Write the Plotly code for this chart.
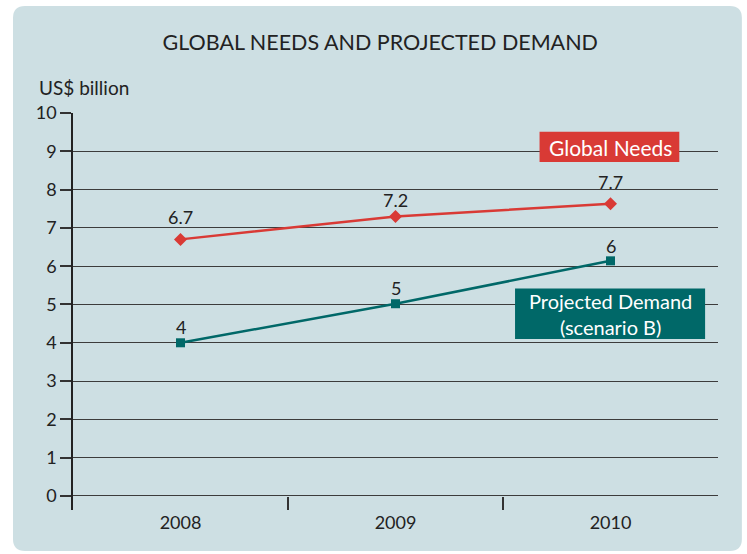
import plotly.graph_objects as go

years = ["2008", "2009", "2010"]
global_needs = [6.7, 7.3, 7.63]
global_needs_labels = ["6.7", "7.2", "7.7"]
projected_demand = [4.0, 5.02, 6.14]
projected_demand_labels = ["4", "5", "6"]
y_ticks = list(range(0, 11))

# label offsets above points (pixels) - styling only
global_needs_label_shift = [22, 16, 22]
projected_demand_label_shift = [16, 16, 15]

RED = "#d93a35"
TEAL = "#006868"
FONT = "Lato"
TXT = "#222222"

fig = go.Figure()
fig.add_trace(go.Scatter(
    x=years, y=global_needs, mode="lines+markers",
    line=dict(color=RED, width=2.5),
    marker=dict(symbol="diamond", size=10, color=RED),
    cliponaxis=False, showlegend=False, name="Global Needs"))
fig.add_trace(go.Scatter(
    x=years, y=projected_demand, mode="lines+markers",
    line=dict(color=TEAL, width=2.5),
    marker=dict(symbol="square", size=9, color=TEAL),
    cliponaxis=False, showlegend=False, name="Projected Demand"))

for ys, labs, shifts in [(global_needs, global_needs_labels, global_needs_label_shift),
                         (projected_demand, projected_demand_labels, projected_demand_label_shift)]:
    for i, (yv, lab, sh) in enumerate(zip(ys, labs, shifts)):
        fig.add_annotation(x=i, y=yv, xref="x", yref="y", text=lab,
                           showarrow=False, yshift=sh, yanchor="middle",
                           font=dict(family=FONT, size=18, color=TXT))

# panel background (rounded rectangle), in paper coordinates
x0, x1, y0, y1 = -0.093, 1.037, -0.1033, 1.2695
rx, ry = 0.0186, 0.0302
path = (f"M {x0+rx},{y0} L {x1-rx},{y0} Q {x1},{y0} {x1},{y0+ry} "
        f"L {x1},{y1-ry} Q {x1},{y1} {x1-rx},{y1} L {x0+rx},{y1} "
        f"Q {x0},{y1} {x0},{y1-ry} L {x0},{y0+ry} Q {x0},{y0} {x0+rx},{y0} Z")
fig.add_shape(type="path", path=path, xref="paper", yref="paper",
              fillcolor="#cddfe3", line=dict(width=0), layer="below")

# series label boxes
fig.add_shape(type="rect", xref="x", yref="y", x0=1.67, x1=2.32, y0=8.72, y1=9.51,
              fillcolor=RED, line=dict(width=0), layer="above")
fig.add_annotation(x=2, y=9.10, xref="x", yref="y", text="Global Needs",
                   showarrow=False, yanchor="middle",
                   font=dict(family=FONT, size=21, color="white"))
fig.add_shape(type="rect", xref="x", yref="y", x0=1.556, x1=2.44, y0=4.10, y1=5.42,
              fillcolor=TEAL, line=dict(width=0), layer="above")
fig.add_annotation(x=2, y=4.76, xref="x", yref="y",
                   text="Projected Demand<br>(scenario B)",
                   showarrow=False, yanchor="middle",
                   font=dict(family=FONT, size=20, color="white"))

fig.add_annotation(x=-0.0558, y=1.063, xref="paper", yref="paper",
                   text="US$ billion", showarrow=False, xanchor="left",
                   yanchor="middle",
                   font=dict(family=FONT, size=19, color=TXT))

fig.update_layout(
    width=747, height=554,
    margin=dict(l=73, r=29, t=113, b=44),
    paper_bgcolor="white", plot_bgcolor="rgba(0,0,0,0)",
    title=dict(text="GLOBAL NEEDS AND PROJECTED DEMAND", x=0.509, xanchor="center",
               y=0.924, yanchor="middle",
               font=dict(family=FONT, size=21.5, color=TXT)),
    font=dict(family=FONT, color=TXT),
)
fig.update_xaxes(type="category", range=[-0.5, 2.5], tickson="boundaries",
                 ticks="inside", ticklen=13, tickcolor="#333", tickwidth=1.5,
                 showgrid=False, showline=False, zeroline=False,
                 tickfont=dict(family=FONT, size=18, color=TXT))
fig.update_yaxes(range=[-0.366, 10], tickvals=y_ticks, ticks="outside", ticklen=11,
                 tickcolor="#333", tickwidth=1.5, showgrid=True, gridcolor="#3c3c3c",
                 gridwidth=1.3, showline=True, linecolor="#222", linewidth=1.5,
                 zeroline=False, tickfont=dict(family=FONT, size=18, color=TXT))

fig.write_html("out.html", config={"displayModeBar": False},
               post_script="document.body.style.margin='0';")
